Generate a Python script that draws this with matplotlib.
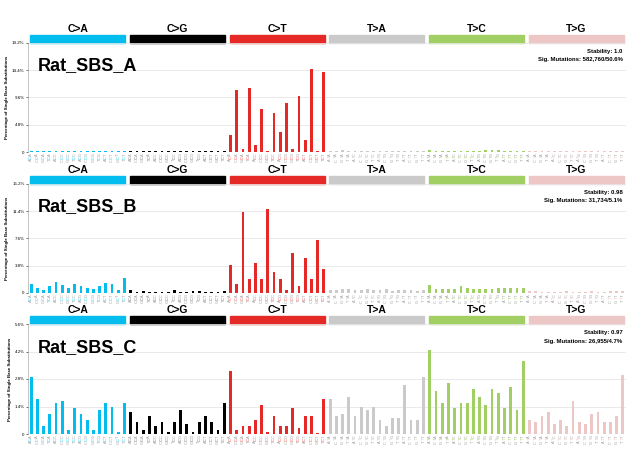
import matplotlib
matplotlib.use('Agg')
import matplotlib.pyplot as plt
from matplotlib.patches import Rectangle
from matplotlib.transforms import blended_transform_factory

plt.rcParams['font.family'] = ['Liberation Sans', 'DejaVu Sans']

mut_types = ['C>A', 'C>G', 'C>T', 'T>A', 'T>C', 'T>G']
type_colors = ['#03bdef', '#010101', '#e42926', '#cbcaca', '#a2cf63', '#ecc7c5']
bases = ['A', 'C', 'G', 'T']

# percentages, 16 trinucleotide contexts per substitution type
sbs_a = [
    0.2, 0.1, 0.2, 0.1, 0.2, 0.2, 0.1, 0.2, 0.1, 0.1, 0.2, 0.1, 0.2, 0.2, 0.1, 0.2,
    0.1, 0.1, 0.1, 0.1, 0.1, 0.1, 0.1, 0.1, 0.1, 0.1, 0.1, 0.1, 0.1, 0.1, 0.1, 0.1,
    3.0, 11.0, 0.5, 11.2, 1.2, 7.5, 0.2, 6.8, 3.5, 8.7, 0.5, 9.8, 2.1, 14.7, 0.2, 14.1,
    0.2, 0.2, 0.3, 0.1, 0.1, 0.1, 0.1, 0.1, 0.1, 0.1, 0.1, 0.1, 0.1, 0.1, 0.1, 0.1,
    0.3, 0.2, 0.2, 0.2, 0.2, 0.2, 0.1, 0.2, 0.2, 0.4, 0.3, 0.3, 0.2, 0.2, 0.1, 0.1,
    0.1, 0.1, 0.1, 0.1, 0.1, 0.1, 0.1, 0.1, 0.1, 0.1, 0.1, 0.1, 0.1, 0.1, 0.1, 0.1,
]
sbs_b = [
    1.3, 0.7, 0.4, 1.0, 1.5, 1.1, 0.7, 1.3, 1.0, 0.7, 0.6, 1.0, 1.4, 1.3, 0.4, 2.1,
    0.4, 0.2, 0.3, 0.2, 0.2, 0.1, 0.2, 0.4, 0.2, 0.1, 0.3, 0.3, 0.2, 0.2, 0.1, 0.3,
    3.9, 1.3, 11.3, 1.9, 4.2, 1.9, 11.7, 2.9, 1.9, 0.4, 5.6, 1.0, 4.9, 1.9, 7.4, 3.3,
    0.4, 0.4, 0.5, 0.6, 0.4, 0.4, 0.5, 0.4, 0.4, 0.5, 0.3, 0.4, 0.4, 0.4, 0.3, 0.4,
    1.1, 0.6, 0.5, 0.6, 0.6, 1.0, 0.7, 0.6, 0.5, 0.5, 0.6, 0.7, 0.7, 0.7, 0.7, 0.7,
    0.3, 0.3, 0.2, 0.2, 0.2, 0.2, 0.3, 0.2, 0.2, 0.2, 0.3, 0.2, 0.2, 0.3, 0.3, 0.3,
]
sbs_c = [
    2.9, 1.8, 0.4, 1.0, 1.6, 1.7, 0.2, 1.3, 1.0, 0.7, 0.2, 1.2, 1.6, 1.4, 0.1, 1.6,
    1.1, 0.6, 0.2, 0.9, 0.4, 0.6, 0.1, 0.6, 1.2, 0.5, 0.1, 0.6, 0.9, 0.6, 0.2, 1.6,
    3.2, 0.2, 0.4, 0.4, 0.7, 1.5, 0.1, 0.9, 0.4, 0.4, 1.3, 0.3, 0.9, 0.9, 0.05, 1.8,
    1.8, 0.9, 1.0, 1.9, 0.9, 1.4, 1.2, 1.4, 0.7, 0.4, 0.8, 0.8, 2.5, 0.7, 0.7, 2.9,
    4.3, 2.2, 1.6, 2.6, 1.3, 1.6, 1.6, 2.3, 1.9, 1.5, 2.3, 2.1, 1.3, 2.4, 1.2, 3.7,
    0.7, 0.6, 0.9, 1.1, 0.5, 0.7, 0.4, 1.7, 0.6, 0.5, 1.0, 1.1, 0.6, 0.6, 0.9, 3.0,
]

yticks_a = [0, 4.8, 9.6, 14.4, 19.2]
yticks_b = [0, 3.8, 7.6, 11.4, 15.2]
yticks_c = [0, 1.4, 2.8, 4.2, 5.6]

names = ['Rat_SBS_A', 'Rat_SBS_B', 'Rat_SBS_C']
stabilities = ['Stability: 1.0', 'Stability: 0.98', 'Stability: 0.97']
sig_mutations = ['Sig. Mutations: 582,760/50.6%',
                 'Sig. Mutations: 31,734/5.1%',
                 'Sig. Mutations: 26,955/4.7%']


def plot_signature(ax, values, yticks, name, stability, sig_text):
    x = list(range(96))
    colors = [type_colors[i // 16] for i in x]
    ax.bar(x, values, width=0.45, color=colors, zorder=3)
    ax.set_xlim(-0.5, 95.5)
    ax.set_ylim(0, yticks[-1])
    ax.set_yticks(yticks)
    ax.set_yticklabels(['0'] + ['%.1f%%' % t for t in yticks[1:]], fontsize=3.2)
    ax.tick_params(axis='y', length=1.5, width=0.4, pad=1)
    ax.set_xticks([])
    ax.grid(axis='y', color='#e6e6e6', linewidth=0.6, zorder=0)
    for side in ['top', 'right', 'bottom']:
        ax.spines[side].set_visible(False)
    ax.spines['left'].set_linewidth(0.4)
    ax.spines['left'].set_color('#999999')
    ax.set_ylabel('Percentage of Single Base Substitutions', fontsize=3.2,
                  fontweight='bold', labelpad=2)

    trans = blended_transform_factory(ax.transData, ax.transAxes)
    for g, (mt, col) in enumerate(zip(mut_types, type_colors)):
        ax.add_patch(Rectangle((16 * g - 0.5 + 0.35, 1.0), 16 - 0.7, 0.075,
                               transform=trans, color=col, clip_on=False))
        ax.text(16 * g + 7.5, 1.085, mt, transform=trans, ha='center', va='bottom',
                fontsize=7.5, fontweight='bold')
        # trinucleotide context labels, mutated base in colour
        for k in range(16):
            i = 16 * g + k
            left, right = bases[k // 4], bases[k % 4]
            mid_col = col if col != '#010101' else '#555555'
            ax.text(i, -0.022, left, transform=trans, rotation=90, ha='center',
                    va='center', fontsize=2.8, color='#999999')
            ax.text(i, -0.048, mt[0], transform=trans, rotation=90, ha='center',
                    va='center', fontsize=2.8, color=mid_col)
            ax.text(i, -0.074, right, transform=trans, rotation=90, ha='center',
                    va='center', fontsize=2.8, color='#999999')

    ax.text(0.017, 0.79, name, transform=ax.transAxes, fontsize=13,
            fontweight='bold', va='center', ha='left')
    ax.text(0.994, 0.92, stability, transform=ax.transAxes, fontsize=4.3,
            fontweight='bold', ha='right', va='center')
    ax.text(0.994, 0.845, sig_text, transform=ax.transAxes, fontsize=4.3,
            fontweight='bold', ha='right', va='center')


fig = plt.figure(figsize=(6.32, 4.57), dpi=100)
W, H = 632.0, 457.0
panels = [(43, 152, sbs_a, yticks_a), (184, 293, sbs_b, yticks_b), (324, 434, sbs_c, yticks_c)]
for n, (top, bottom, vals, ticks) in enumerate(panels):
    ax = fig.add_axes([28 / W, 1 - bottom / H, 598 / W, (bottom - top) / H])
    plot_signature(ax, vals, ticks, names[n], stabilities[n], sig_mutations[n])

fig.savefig('out.png', dpi=100)
